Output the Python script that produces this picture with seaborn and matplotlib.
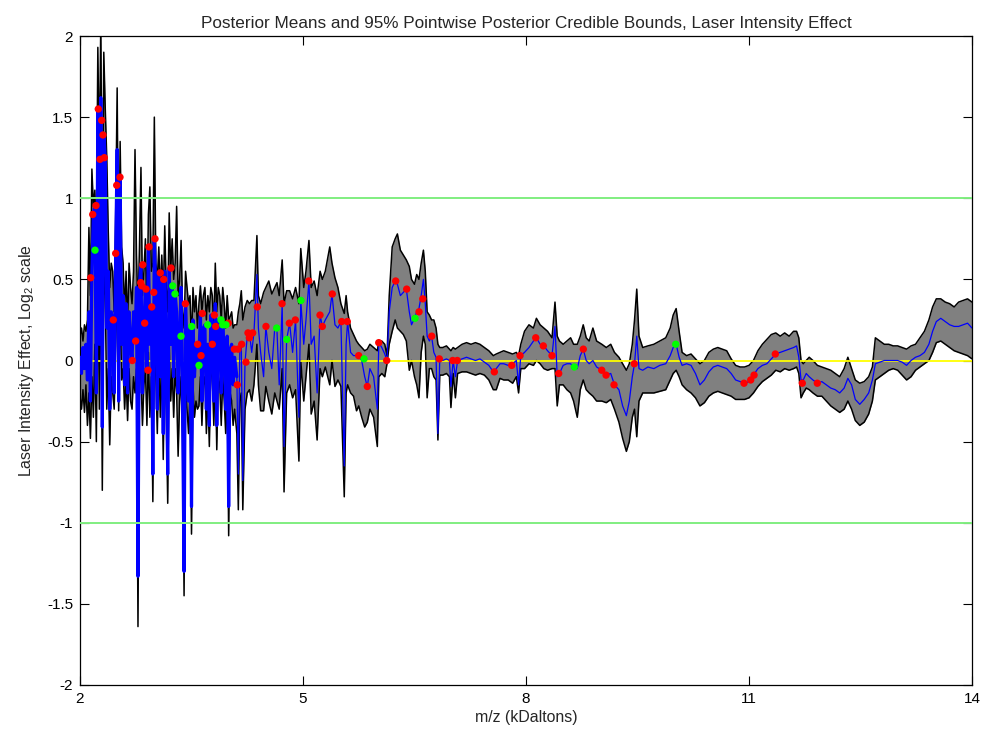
import numpy as np
import matplotlib
matplotlib.use("Agg")
import matplotlib.pyplot as plt
import seaborn as sns

# ---------------- data (m/z in kDaltons, effect on log2 scale) ----------------
x_left = [2.00, 2.02, 2.04, 2.06, 2.08, 2.10, 2.12, 2.14, 2.16, 2.18,
          2.20, 2.22, 2.24, 2.26, 2.28, 2.30, 2.32, 2.34, 2.36, 2.38,
          2.40, 2.42, 2.44, 2.46, 2.48, 2.50, 2.52, 2.54, 2.56, 2.58,
          2.60, 2.62, 2.64, 2.66, 2.68, 2.70, 2.72, 2.74, 2.76, 2.78,
          2.80, 2.82, 2.84, 2.86, 2.88, 2.90, 2.92, 2.94, 2.96, 2.98,
          3.00, 3.02, 3.04, 3.06, 3.08, 3.10, 3.12, 3.14, 3.16, 3.18,
          3.20, 3.22, 3.24, 3.26, 3.28, 3.30, 3.32, 3.34, 3.36, 3.38,
          3.40, 3.42, 3.44, 3.46, 3.48, 3.50, 3.52, 3.54, 3.56, 3.58,
          3.60, 3.62, 3.64, 3.66, 3.68, 3.70, 3.72, 3.74, 3.76, 3.78,
          3.80, 3.82, 3.84, 3.86, 3.88, 3.90, 3.92, 3.94, 3.96, 3.98,
          4.00, 4.02, 4.04, 4.06, 4.08]
up_left = [0.15, 0.20, 0.12, 0.22, 0.18, 0.25, 0.82, 0.40, 1.18, 0.95,
           1.05, 0.70, 1.93, 1.20, 2.10, 0.60, 1.90, 1.55, 1.25, 0.80,
           0.45, 0.60, 0.55, 0.30, 0.90, 1.68, 0.40, 1.35, 0.70, 0.60,
           0.30, 0.55, 0.20, 0.60, 0.45, 0.35, 0.55, 1.30, 0.65, 0.30,
           0.70, 1.19, 0.40, 0.55, 0.75, 0.25, 0.90, 1.07, 0.55, 0.60,
           1.50, 0.60, 0.50, 0.70, 0.40, 0.65, 0.35, 0.83, 0.45, 0.30,
           0.91, 0.55, 0.75, 0.50, 0.60, 0.95, 0.40, 0.50, 0.74, 0.30,
           0.20, 0.55, 0.45, 0.35, 0.40, 0.10, 0.45, 0.30, 0.40, 0.20,
           0.35, 0.46, 0.30, 0.40, 0.45, 0.25, 0.40, 0.30, 0.45, 0.40,
           0.20, 0.60, 0.30, 0.45, 0.40, 0.25, 0.45, 0.35, 0.20, 0.40,
           0.25, 0.27, 0.30, 0.20, 0.22]
mean_left = [0.02, -0.08, 0.08, -0.05, 0.10, -0.12, 0.30, -0.25, 0.55, 0.90,
             0.96, -0.20, 1.55, 0.10, 1.62, -0.41, 1.40, 1.25, 0.20, 0.55,
             -0.30, 0.30, 0.25, -0.20, 0.66, 1.30, -0.25, 1.13, 0.10, 0.40,
             -0.15, 0.35, -0.20, 0.30, 0.10, 0.00, 0.30, 0.12, 0.45, -1.33,
             0.48, 0.59, -0.20, 0.23, 0.44, -0.06, 0.70, 0.10, 0.33, -0.70,
             0.75, 0.42, -0.30, 0.54, -0.10, 0.50, -0.45, 0.55, 0.05, -0.70,
             0.57, 0.10, 0.46, -0.10, 0.41, 0.30, -0.20, 0.15, 0.45, -0.30,
             -1.30, 0.35, 0.05, -0.25, 0.21, -0.90, 0.25, -0.10, 0.10, -0.03,
             0.03, 0.29, -0.25, 0.20, 0.22, -0.30, 0.10, -0.40, 0.28, 0.21,
             -0.25, 0.35, -0.40, 0.25, 0.22, -0.20, 0.23, 0.05, -0.30, 0.15,
             -0.90, 0.07, 0.10, -0.15, 0.02]
lo_left = [-0.22, -0.30, -0.18, -0.32, -0.15, -0.40, -0.20, -0.48, -0.10, -0.35,
           0.10, -0.50, 0.60, -0.30, 0.70, -0.80, 0.55, 0.40, -0.30, -0.05,
           -0.52, -0.10, -0.20, -0.30, 0.10, 0.50, -0.31, 0.40, -0.12, -0.05,
           -0.30, -0.10, -0.37, -0.05, -0.25, -0.30, -0.10, -0.20, -0.05, -1.64,
           0.00, -0.10, -0.40, -0.15, -0.05, -0.40, 0.05, -0.35, -0.10, -0.87,
           0.20, -0.10, -0.45, 0.05, -0.35, 0.00, -0.61, 0.05, -0.30, -0.88,
           0.10, -0.25, -0.05, -0.35, -0.05, -0.20, -0.59, -0.25, -0.10, -0.50,
           -1.45, -0.15, -0.30, -0.45, -0.20, -1.07, -0.15, -0.35, -0.25, -0.30,
           -0.28, -0.10, -0.40, -0.15, -0.10, -0.45, -0.20, -0.53, -0.05, -0.10,
           -0.40, -0.05, -0.55, -0.10, -0.15, -0.40, -0.10, -0.25, -0.45, -0.15,
           -1.08, -0.20, -0.25, -0.40, -0.30]

x_mid = [4.11, 4.13, 4.15, 4.17, 4.19, 4.22, 4.25, 4.28, 4.31, 4.34,
         4.38, 4.40, 4.43, 4.47, 4.50, 4.54, 4.58, 4.62, 4.65, 4.68,
         4.72, 4.745, 4.78, 4.82, 4.86, 4.90, 4.945, 4.97, 5.01, 5.04,
         5.08, 5.11, 5.15, 5.19, 5.23, 5.26, 5.30, 5.36, 5.39, 5.43,
         5.47, 5.51, 5.555, 5.58, 5.60, 5.64, 5.68, 5.72, 5.75, 5.79,
         5.83, 5.865, 5.90, 5.95, 6.00, 6.02, 6.06, 6.10, 6.13, 6.16,
         6.20, 6.24, 6.27, 6.31, 6.35, 6.39, 6.43, 6.46, 6.50, 6.53,
         6.56, 6.59, 6.62, 6.645, 6.67, 6.70, 6.73, 6.76, 6.79, 6.815,
         6.84]
up_mid = [0.22, 0.30, 0.35, 0.43, 0.25, 0.33, 0.37, 0.35, 0.37, 0.37,
          0.77, 0.40, 0.35, 0.42, 0.45, 0.49, 0.41, 0.45, 0.48, 0.40,
          0.62, 0.35, 0.43, 0.43, 0.38, 0.45, 0.35, 0.69, 0.45, 0.55,
          0.74, 0.45, 0.49, 0.40, 0.55, 0.50, 0.55, 0.70, 0.60, 0.51,
          0.45, 0.35, 0.29, 0.40, 0.30, 0.20, 0.16, 0.12, 0.10, 0.08,
          0.06, 0.07, 0.10, 0.08, 0.06, 0.12, 0.12, 0.10, 0.03, 0.40,
          0.70, 0.75, 0.78, 0.68, 0.65, 0.62, 0.58, 0.50, 0.47, 0.53,
          0.50, 0.60, 0.68, 0.55, 0.30, 0.28, 0.25, 0.25, 0.20, 0.10,
          0.08]
mean_mid = [-0.10, -0.70, 0.07, 0.10, -0.74, -0.01, 0.15, 0.17, 0.05, 0.17,
            0.53, 0.20, 0.05, -0.10, 0.21, 0.05, -0.05, 0.20, 0.18, -0.15,
            0.35, -0.53, 0.13, 0.23, 0.05, 0.25, -0.35, 0.37, 0.10, 0.25,
            0.49, 0.10, 0.15, -0.20, 0.28, 0.21, 0.25, 0.30, 0.41, 0.22,
            0.20, 0.24, -0.65, 0.10, 0.24, 0.05, 0.03, 0.03, 0.03, 0.00,
            -0.10, -0.16, -0.05, -0.10, -0.30, 0.11, 0.08, 0.04, 0.00, 0.30,
            0.45, 0.49, 0.47, 0.40, 0.42, 0.44, 0.30, 0.22, 0.26, 0.30,
            0.32, 0.40, 0.50, 0.35, 0.15, 0.12, 0.15, 0.05, 0.02, -0.45,
            0.01]
lo_mid = [-0.45, -0.92, -0.25, -0.20, -0.92, -0.30, -0.20, -0.18, -0.25, -0.15,
          0.10, -0.15, -0.31, -0.31, -0.16, -0.25, -0.33, -0.20, -0.25, -0.30,
          -0.05, -0.81, -0.20, -0.15, -0.23, -0.18, -0.62, 0.00, -0.25, -0.10,
          0.10, -0.33, -0.25, -0.49, -0.05, -0.10, -0.04, -0.15, 0.00, -0.16,
          -0.12, -0.16, -0.84, -0.20, -0.15, -0.20, -0.22, -0.31, -0.28, -0.35,
          -0.41, -0.38, -0.30, -0.35, -0.53, -0.10, -0.08, -0.10, -0.02, 0.10,
          0.18, 0.25, 0.20, 0.18, 0.16, 0.12, -0.06, 0.00, -0.10, -0.15,
          -0.23, 0.05, 0.15, 0.10, -0.23, -0.05, -0.05, -0.10, -0.12, -0.49,
          -0.09]

x_right = [6.88, 6.93, 6.97, 6.99, 7.02, 7.05, 7.08, 7.14, 7.20, 7.26,
           7.32, 7.38, 7.44, 7.50, 7.56, 7.60, 7.65, 7.70, 7.76, 7.82,
           7.87, 7.90, 7.93, 7.98, 8.04, 8.10, 8.14, 8.19, 8.24, 8.29,
           8.35, 8.39, 8.42, 8.45, 8.50, 8.55, 8.60, 8.64, 8.69, 8.73,
           8.77, 8.81, 8.85, 8.90, 8.95, 9.02, 9.08, 9.14, 9.19, 9.25,
           9.30, 9.35, 9.39, 9.43, 9.46, 9.49, 9.52, 9.57, 9.64, 9.72,
           9.80, 9.88, 9.94, 9.98, 10.02, 10.06, 10.10, 10.16, 10.22, 10.28,
           10.34, 10.40, 10.46, 10.52, 10.58, 10.64, 10.70, 10.76, 10.82, 10.88,
           10.94, 11.00, 11.06, 11.12, 11.18, 11.24, 11.30, 11.36, 11.42, 11.48,
           11.54, 11.60, 11.64, 11.67, 11.70, 11.73, 11.77, 11.81, 11.86, 11.92,
           11.98, 12.04, 12.10, 12.16, 12.22, 12.28, 12.33, 12.38, 12.43, 12.49,
           12.55, 12.61, 12.66, 12.70, 12.76, 12.82, 12.88, 12.94, 13.00, 13.06,
           13.12, 13.18, 13.24, 13.30, 13.36, 13.42, 13.47, 13.52, 13.58, 13.64,
           13.70, 13.76, 13.82, 13.88, 13.94, 14.00]
up_right = [0.08, 0.09, 0.07, 0.06, 0.08, 0.07, 0.08, 0.10, 0.11, 0.10,
            0.11, 0.10, 0.08, 0.06, 0.03, 0.04, 0.05, 0.06, 0.05, 0.04,
            0.05, 0.03, 0.10, 0.18, 0.22, 0.20, 0.26, 0.22, 0.20, 0.18,
            0.14, 0.36, 0.15, 0.12, 0.10, 0.12, 0.14, 0.10, 0.10, 0.15,
            0.22, 0.14, 0.12, 0.20, 0.12, 0.10, 0.08, 0.10, 0.05, 0.02,
            -0.02, -0.06, -0.02, 0.10, 0.25, 0.44, 0.15, 0.08, 0.09, 0.10,
            0.12, 0.14, 0.20, 0.28, 0.32, 0.18, 0.05, 0.03, 0.04, 0.01,
            -0.02, 0.00, 0.05, 0.07, 0.08, 0.07, 0.06, 0.01, -0.03, -0.04,
            -0.04, -0.03, 0.00, 0.06, 0.10, 0.13, 0.16, 0.17, 0.15, 0.17,
            0.15, 0.18, 0.18, 0.14, 0.00, -0.02, 0.00, 0.02, 0.00, -0.03,
            -0.04, -0.05, -0.06, -0.08, -0.10, -0.05, 0.02, -0.05, -0.12, -0.14,
            -0.13, -0.10, -0.04, 0.14, 0.12, 0.10, 0.10, 0.09, 0.09, 0.08,
            0.07, 0.09, 0.10, 0.14, 0.18, 0.25, 0.33, 0.38, 0.38, 0.36,
            0.35, 0.33, 0.36, 0.37, 0.38, 0.36]
mean_right = [0.00, 0.01, 0.00, -0.16, 0.00, -0.10, 0.00, 0.01, 0.02, 0.01,
              0.00, 0.01, -0.01, -0.03, -0.07, -0.05, -0.02, -0.02, -0.03, -0.02,
              0.00, -0.15, 0.03, 0.05, 0.08, 0.12, 0.14, 0.10, 0.09, 0.06,
              0.03, 0.21, -0.10, -0.08, -0.03, -0.02, -0.02, -0.04, -0.05, 0.03,
              0.07, 0.00, -0.02, 0.00, -0.04, -0.06, -0.09, -0.08, -0.15, -0.18,
              -0.28, -0.34, -0.25, -0.10, -0.02, 0.15, -0.05, -0.06, -0.04, -0.05,
              -0.03, -0.02, 0.03, 0.08, 0.10, 0.02, -0.03, -0.02, -0.03, -0.08,
              -0.15, -0.12, -0.07, -0.04, -0.03, -0.04, -0.05, -0.08, -0.12, -0.13,
              -0.14, -0.13, -0.09, -0.05, -0.03, -0.02, 0.01, 0.04, 0.05, 0.06,
              0.07, 0.08, 0.09, 0.02, -0.12, -0.12, -0.08, -0.10, -0.12, -0.14,
              -0.13, -0.15, -0.17, -0.18, -0.20, -0.17, -0.11, -0.15, -0.24, -0.27,
              -0.24, -0.20, -0.12, -0.02, -0.01, 0.00, 0.00, 0.00, 0.00, -0.01,
              -0.03, 0.00, 0.02, 0.03, 0.05, 0.10, 0.18, 0.24, 0.26, 0.24,
              0.22, 0.21, 0.21, 0.22, 0.23, 0.20]
lo_right = [-0.09, -0.08, -0.10, -0.29, -0.08, -0.23, -0.08, -0.07, -0.07, -0.08,
            -0.09, -0.08, -0.09, -0.12, -0.18, -0.18, -0.11, -0.12, -0.12, -0.14,
            -0.10, -0.20, -0.05, -0.05, -0.02, -0.03, 0.00, -0.02, -0.05, -0.06,
            -0.05, -0.05, -0.28, -0.15, -0.15, -0.18, -0.20, -0.25, -0.35, -0.18,
            -0.12, -0.18, -0.20, -0.22, -0.25, -0.25, -0.26, -0.24, -0.30, -0.38,
            -0.48, -0.56, -0.50, -0.35, -0.30, -0.47, -0.25, -0.20, -0.20, -0.20,
            -0.19, -0.18, -0.12, -0.08, -0.06, -0.10, -0.15, -0.18, -0.20, -0.23,
            -0.28, -0.26, -0.22, -0.20, -0.19, -0.20, -0.21, -0.22, -0.24, -0.24,
            -0.24, -0.23, -0.20, -0.16, -0.13, -0.11, -0.09, -0.06, -0.07, -0.05,
            -0.06, -0.05, -0.04, -0.08, -0.23, -0.20, -0.17, -0.18, -0.20, -0.22,
            -0.22, -0.25, -0.28, -0.30, -0.32, -0.30, -0.25, -0.30, -0.37, -0.40,
            -0.38, -0.33, -0.25, -0.12, -0.10, -0.08, -0.06, -0.05, -0.06, -0.09,
            -0.12, -0.10, -0.06, -0.04, -0.02, 0.00, 0.05, 0.11, 0.12, 0.10,
            0.08, 0.06, 0.05, 0.04, 0.03, 0.01]

red_x = [2.144, 2.171, 2.215, 2.246, 2.292, 2.309, 2.269, 2.327, 2.494, 2.538,
         2.480, 2.448, 2.749, 2.704, 2.844, 2.817, 2.830, 2.888, 2.928, 3.009,
         2.965, 2.992, 2.870, 3.080, 3.126, 3.224, 2.915, 3.417, 3.583, 3.628,
         3.645, 3.807, 3.826, 3.780, 3.995, 4.076,
         4.126, 4.175, 4.116, 4.233, 4.260, 4.323, 4.278, 4.385, 4.502, 4.718,
         4.816, 4.897, 5.077, 5.229, 5.260, 5.394, 5.521, 5.596, 5.749, 5.865,
         6.019, 6.126, 6.247, 6.395, 6.561, 6.611,
         6.732, 6.834, 7.014, 7.076, 7.574, 7.808, 7.920, 8.131, 8.233, 8.350,
         8.440, 8.771, 9.019, 9.077, 9.184, 9.457, 10.933, 11.023, 11.068, 11.354,
         11.717, 11.919]
red_y = [0.51, 0.90, 0.955, 1.55, 1.48, 1.39, 1.24, 1.25, 1.08, 1.13,
         0.66, 0.25, 0.12, 0.00, 0.59, 0.48, 0.46, 0.44, 0.70, 0.75,
         0.33, 0.42, 0.23, 0.54, 0.50, 0.57, -0.06, 0.35, 0.10, 0.03,
         0.29, 0.28, 0.21, 0.10, 0.23, 0.07,
         0.07, 0.10, -0.15, -0.01, 0.17, 0.17, 0.14, 0.33, 0.21, 0.35,
         0.23, 0.25, 0.49, 0.28, 0.21, 0.41, 0.24, 0.24, 0.03, -0.16,
         0.11, 0.00, 0.49, 0.44, 0.30, 0.38,
         0.15, 0.01, 0.00, 0.00, -0.07, -0.03, 0.03, 0.14, 0.09, 0.03,
         -0.08, 0.07, -0.06, -0.09, -0.15, -0.02, -0.14, -0.12, -0.09, 0.04,
         -0.14, -0.14]
green_x = [2.202, 3.247, 3.278, 3.359, 3.503, 3.601, 3.718, 3.897, 3.920, 3.964,
           4.646, 4.781, 4.973, 5.821, 6.507, 8.650, 10.014]
green_y = [0.68, 0.46, 0.41, 0.15, 0.21, -0.03, 0.22, 0.25, 0.22, 0.22,
           0.20, 0.13, 0.37, 0.01, 0.26, -0.04, 0.10]

x_ticks = [2, 5, 8, 11, 14]
y_ticks = [-2, -1.5, -1, -0.5, 0, 0.5, 1, 1.5, 2]
y_tick_labels = ["-2", "-1.5", "-1", "-0.5", "0", "0.5", "1", "1.5", "2"]

# ---------------- drawing ----------------
sns.set_theme(style="white")
plt.rcParams["font.family"] = ["Liberation Sans", "DejaVu Sans"]
plt.rcParams["mathtext.fontset"] = "custom"
plt.rcParams["mathtext.rm"] = "Liberation Sans"
plt.rcParams["mathtext.it"] = "Liberation Sans:italic"
plt.rcParams["axes.unicode_minus"] = False

xs = np.array(x_left + x_mid + x_right)
up = np.array(up_left + up_mid + up_right)
mn = np.array(mean_left + mean_mid + mean_right)
lo = np.array(lo_left + lo_mid + lo_right)

fig = plt.figure(figsize=(9.84, 7.36), dpi=100)
ax = fig.add_axes([80 / 984, 51 / 736, 892 / 984, 649 / 736])

ax.fill_between(xs, lo, up, color="#808080", linewidth=0, zorder=1)
ax.plot(xs, up, color="black", lw=1.1, zorder=2)
ax.plot(xs, lo, color="black", lw=1.1, zorder=2)
ax.axhline(0, color="#ffff00", lw=1.3, zorder=3)
sns.lineplot(x=xs, y=mn, ax=ax, color="#0000ff", lw=0.9, estimator=None,
             sort=False, zorder=4)
# the densely sampled, spiky low-mass part reads as a solid blue mass
n_dense = len(x_left) + 1
sns.lineplot(x=xs[:n_dense], y=mn[:n_dense], ax=ax, color="#0000ff", lw=2.3,
             estimator=None, sort=False, zorder=4)
ax.axhline(1, color="#80ee80", lw=1.4, zorder=5)
ax.axhline(-1, color="#80ee80", lw=1.4, zorder=5)
sns.scatterplot(x=red_x, y=red_y, ax=ax, color="#ff0000", s=28,
                edgecolor="none", zorder=6)
sns.scatterplot(x=green_x, y=green_y, ax=ax, color="#00ff00", s=28,
                edgecolor="none", zorder=6)

ax.set_xlim(2, 14)
ax.set_ylim(-2, 2)
ax.set_xticks(x_ticks)
ax.set_xticklabels([str(t) for t in x_ticks])
ax.set_yticks(y_ticks)
ax.set_yticklabels(y_tick_labels)
ax.tick_params(direction="in", length=6.5, width=0.8, top=True, right=True,
               bottom=True, left=True, labelsize=11, pad=5, colors="black")
for s in ax.spines.values():
    s.set_color("black")
    s.set_linewidth(0.9)

ax.set_title("Posterior Means and 95% Pointwise Posterior Credible Bounds, "
             "Laser Intensity Effect", fontsize=12.3, pad=6)
ax.set_xlabel("m/z (kDaltons)", fontsize=11.4, labelpad=3)
ax.set_ylabel("Laser Intensity Effect, Log$_2$ scale", fontsize=11.4, labelpad=8)

fig.savefig("out.png", dpi=100)
